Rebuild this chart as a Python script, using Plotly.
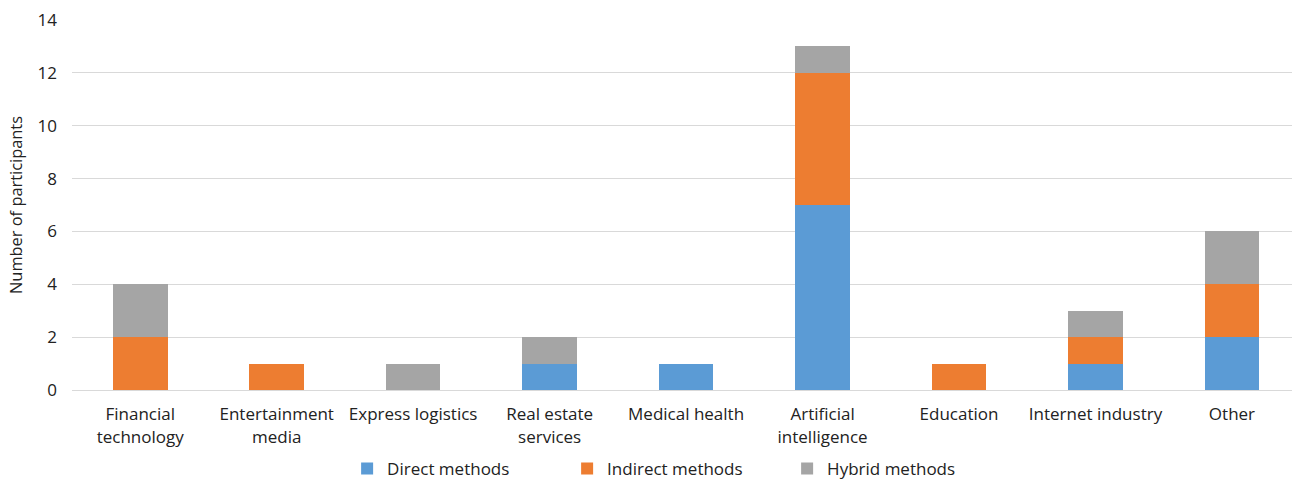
import plotly.graph_objects as go

categories = ["Financial<br>technology", "Entertainment<br>media", "Express logistics",
              "Real estate<br>services", "Medical health", "Artificial<br>intelligence",
              "Education", "Internet industry", "Other"]
direct = [0, 0, 0, 1, 1, 7, 0, 1, 2]
indirect = [2, 1, 0, 0, 0, 5, 1, 1, 2]
hybrid = [2, 0, 1, 1, 0, 1, 0, 1, 2]
series_names = ["Direct methods", "Indirect methods", "Hybrid methods"]
colors = ["#5B9BD5", "#ED7D31", "#A5A5A5"]

fig = go.Figure()
for name, vals, col in zip(series_names, [direct, indirect, hybrid], colors):
    fig.add_trace(go.Bar(x=categories, y=vals, name=name, marker_color=col,
                         marker_line_width=0))

font_family = "Open Sans, Noto Sans, sans-serif"
fig.update_layout(
    barmode="stack",
    bargap=0.6,
    width=1292, height=480,
    margin=dict(l=72, r=0, t=20, b=90, autoexpand=False),
    paper_bgcolor="white", plot_bgcolor="white",
    font=dict(family=font_family, size=17, color="#222222"),
    xaxis=dict(range=[-0.5, 8.44], showgrid=False, showline=True, linecolor="#D9D9D9",
               linewidth=1, ticks="", tickfont=dict(size=17), ticklabelstandoff=9,
               automargin=False),
    yaxis=dict(range=[0, 14], dtick=2, showgrid=True, gridcolor="#D9D9D9", gridwidth=1,
               zeroline=False, ticks="", tickfont=dict(size=17), ticklabelstandoff=14,
               automargin=False,
               title=dict(text="Number of participants", font=dict(size=16.4), standoff=10)),
    legend=dict(orientation="h", x=0.496, xanchor="center", y=-0.1645, yanchor="top",
                font=dict(size=17), entrywidth=175, entrywidthmode="pixels",
                itemsizing="constant", traceorder="normal"),
)
fig.write_html("out.html")
